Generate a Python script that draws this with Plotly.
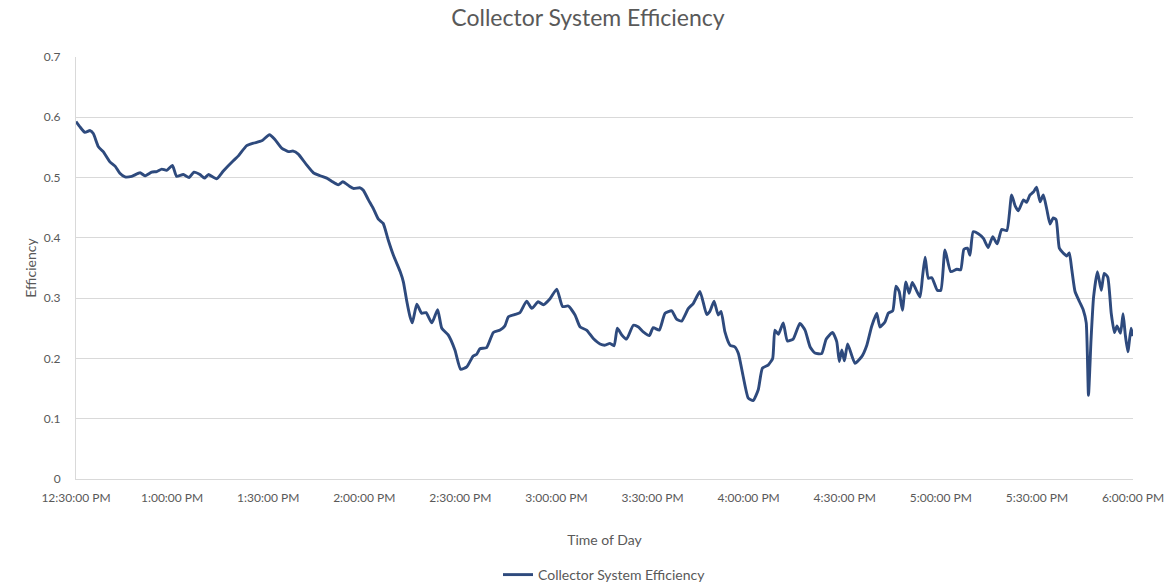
import datetime as dt
import plotly.graph_objects as go

# Minutes elapsed since 12:30 PM
minutes = [0.0, 1.25, 2.8, 4.4, 5.4, 7.0, 8.5, 10.6, 12.2, 13.7, 15.3, 17.4, 20.0, 21.5, 23.6, 25.2,
           26.8, 28.3, 30.1, 31.4, 33.5, 35.3, 36.8, 38.7, 40.1, 41.3, 43.9, 46.0, 49.1, 50.7, 53.3,
           55.4, 58.0, 60.4, 62.1, 64.2, 66.3, 67.8, 69.4, 72.0, 74.1, 76.2, 78.3, 79.8, 81.9, 83.3,
           85.3, 86.6, 88.7, 89.7, 91.3, 92.8, 94.4, 95.9, 97.5, 99.1, 101.2, 102.2, 103.2, 104.3,
           105.0, 106.4, 107.9, 109.3, 111.1, 112.9, 114.2, 116.2, 118.3, 120.1, 122.0, 124.0, 125.1,
           126.1, 128.2, 130.3, 132.4, 133.9, 135.0, 137.1, 138.6, 140.7, 142.3, 144.3, 145.9, 148.0,
           150.1, 151.9, 153.7, 155.8, 157.4, 159.4, 161.5, 163.6, 165.2, 166.7, 168.0, 169.0, 170.4,
           171.9, 174.0, 175.6, 177.1, 179.0, 180.2, 182.1, 183.9, 186.0, 187.5, 189.1, 191.2, 192.7,
           194.8, 196.9, 197.9, 199.2, 200.5, 201.4, 202.6, 204.2, 205.7, 206.8, 208.3, 209.9, 211.4,
           213.0, 214.3, 216.1, 217.5, 218.2, 219.3, 220.8, 222.1, 223.9, 226.0, 227.6, 229.2, 230.7,
           232.8, 234.2, 236.2, 237.5, 238.3, 239.1, 239.9, 240.9, 243.2, 245.3, 246.9, 248.4, 250.0,
           251.0, 252.6, 253.6, 255.0, 256.0, 257.0, 258.0, 259.1, 260.1, 261.1, 262.2, 263.5, 264.3,
           265.1, 266.1, 267.2, 268.9, 270.0, 271.3, 273.1, 275.0, 276.2, 277.2, 278.3, 279.1, 280.1,
           281.7, 283.3, 284.8, 286.2, 287.6, 289.0, 290.6, 292.1, 293.2, 294.2, 295.8, 296.8, 297.8,
           298.9, 299.9, 301.0, 302.0, 303.1, 304.1, 305.1, 306.0, 307.0, 308.2, 309.3, 310.1, 310.9,
           311.9, 313.3, 314.5, 315.4, 316.1, 316.9, 317.7, 318.9, 320.1, 321.0, 322.1, 323.2, 324.2,
           325.0, 326.1, 326.9, 327.6, 328.4, 329.4, 330.0]

efficiency = [0.593, 0.584, 0.575, 0.578, 0.573, 0.551, 0.543, 0.526, 0.519, 0.507, 0.501, 0.502, 0.508,
              0.503, 0.509, 0.510, 0.514, 0.512, 0.520, 0.502, 0.505, 0.500, 0.509, 0.505, 0.499, 0.505,
              0.498, 0.511, 0.528, 0.536, 0.553, 0.557, 0.561, 0.571, 0.563, 0.549, 0.543, 0.544, 0.539,
              0.521, 0.508, 0.503, 0.499, 0.494, 0.488, 0.493, 0.486, 0.482, 0.483, 0.479, 0.463, 0.449,
              0.431, 0.424, 0.396, 0.371, 0.344, 0.327, 0.297, 0.269, 0.259, 0.290, 0.275, 0.276, 0.259,
              0.281, 0.250, 0.239, 0.214, 0.182, 0.186, 0.204, 0.207, 0.216, 0.218, 0.243, 0.247, 0.254,
              0.269, 0.273, 0.276, 0.295, 0.283, 0.294, 0.289, 0.299, 0.315, 0.286, 0.287, 0.272, 0.252,
              0.247, 0.233, 0.224, 0.222, 0.225, 0.221, 0.250, 0.239, 0.232, 0.255, 0.252, 0.244, 0.238,
              0.251, 0.247, 0.275, 0.279, 0.265, 0.262, 0.283, 0.291, 0.311, 0.273, 0.278, 0.295, 0.272,
              0.278, 0.244, 0.222, 0.219, 0.208, 0.170, 0.134, 0.130, 0.148, 0.184, 0.189, 0.200, 0.247,
              0.240, 0.259, 0.229, 0.232, 0.258, 0.247, 0.219, 0.209, 0.208, 0.232, 0.243, 0.228, 0.195,
              0.214, 0.196, 0.224, 0.192, 0.203, 0.222, 0.253, 0.275, 0.252, 0.261, 0.275, 0.279, 0.320,
              0.311, 0.280, 0.327, 0.308, 0.326, 0.315, 0.302, 0.336, 0.368, 0.333, 0.334, 0.313, 0.313,
              0.380, 0.344, 0.348, 0.347, 0.381, 0.383, 0.371, 0.410, 0.407, 0.399, 0.384, 0.402, 0.390,
              0.414, 0.412, 0.471, 0.453, 0.445, 0.463, 0.459, 0.471, 0.476, 0.484, 0.460, 0.471, 0.447,
              0.423, 0.433, 0.430, 0.383, 0.375, 0.370, 0.375, 0.347, 0.311, 0.294, 0.280, 0.259, 0.139,
              0.231, 0.302, 0.344, 0.313, 0.341, 0.335, 0.275, 0.243, 0.254, 0.242, 0.274, 0.239, 0.211,
              0.250, 0.237]

start = dt.datetime(2020, 1, 1, 12, 30)
end = dt.datetime(2020, 1, 1, 18, 0)
times = [start + dt.timedelta(minutes=m) for m in minutes]

FONT = "Lato, 'Open Sans', sans-serif"
GRAY = "#595959"

fig = go.Figure()
fig.add_trace(go.Scatter(
    x=times, y=efficiency, mode="lines",
    name="Collector System Efficiency",
    line=dict(color="#2E4A7D", width=2.9, shape="spline", smoothing=0.5),
))

fig.update_layout(
    width=1176, height=585,
    margin=dict(l=76, r=43, t=57, b=106, autoexpand=False),
    paper_bgcolor="white", plot_bgcolor="white",
    font=dict(family=FONT, color=GRAY, size=12),
    title=dict(text="Collector System Efficiency", x=0.5, xanchor="center",
               y=0.969, yanchor="middle", font=dict(size=23, color=GRAY, family=FONT)),
    showlegend=True,
    legend=dict(orientation="h", x=0.5, xanchor="center", y=-0.2275, yanchor="middle",
                font=dict(size=14, color=GRAY, family=FONT)),
    xaxis=dict(
        type="date", range=[start, end], automargin=False,
        tickmode="linear", tick0=start, dtick=30 * 60 * 1000,
        tickformat="%-I:%M:%S %p",
        showgrid=False, showline=True, linecolor="#d9d9d9", linewidth=1,
        ticks="", ticklabelstandoff=8, tickfont=dict(size=12, color=GRAY),
        title=dict(text="Time of Day", font=dict(size=14, color=GRAY), standoff=30),
        zeroline=False,
    ),
    yaxis=dict(
        range=[0, 0.7], tickmode="linear", tick0=0, dtick=0.1, automargin=False,
        showgrid=True, gridcolor="#d9d9d9", gridwidth=1,
        showline=True, linecolor="#d9d9d9", linewidth=1,
        ticks="", ticklabelstandoff=12, tickfont=dict(size=12, color=GRAY),
        title=dict(text="Efficiency", font=dict(size=14, color=GRAY), standoff=3),
        zeroline=False,
    ),
)

fig.write_html("out.html", config={"displayModeBar": False})

# remove the default page margin so the figure sits at the window's top-left corner
with open("out.html", "r", encoding="utf-8") as f:
    html = f.read()
html = html.replace("<body>", '<body style="margin:0;padding:0;overflow:hidden">', 1)
with open("out.html", "w", encoding="utf-8") as f:
    f.write(html)
